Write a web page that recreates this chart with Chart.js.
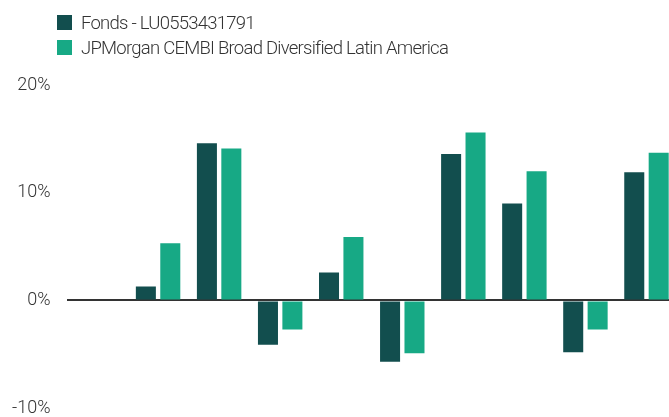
<!DOCTYPE html>
<html>
<head>
<meta charset="utf-8">
<script src="https://cdn.jsdelivr.net/npm/chart.js@4"></script>
<style>
  html, body { margin: 0; padding: 0; background: #fff; overflow: hidden; width: 669px; height: 417px; }
  #wrap { position: absolute; left: 0; top: 0; width: 677px; height: 417px; overflow: hidden; }
  #legend { position: absolute; left: 57px; top: 10px; font-family: Roboto, sans-serif; font-weight: 300; font-size: 18.5px; color: #333; letter-spacing: -0.75px; }
  .item { display: flex; align-items: center; height: 25px; }
  .sw { width: 15px; height: 15px; margin-right: 9px; }
</style>
</head>
<body>
<div id="wrap"><canvas id="c" width="677" height="435"></canvas></div>
<div id="legend"></div>
<script>
const categories = ["", "1", "2", "3", "4", "5", "6", "7", "8", "9"];
const seriesNames = ["Fonds - LU0553431791", "JPMorgan CEMBI Broad Diversified Latin America"];
const fondsValues = [null, 1.3, 14.6, -4.1, 2.6, -5.7, 13.6, 9.0, -4.8, 11.9];
const benchValues = [null, 5.3, 14.1, -2.7, 5.9, -4.9, 15.6, 12.0, -2.7, 13.7];
const yTicks = [-10, 0, 10, 20];
const colors = ["#124e4e", "#17a985"];

const legend = document.getElementById('legend');
seriesNames.forEach((n, i) => {
  const d = document.createElement('div'); d.className = 'item';
  d.innerHTML = '<span class="sw" style="background:' + colors[i] + '"></span><span>' + n + '</span>';
  legend.appendChild(d);
});

new Chart(document.getElementById('c'), {
  type: 'bar',
  data: {
    labels: categories,
    datasets: [
      { label: seriesNames[0], data: fondsValues, backgroundColor: colors[0] },
      { label: seriesNames[1], data: benchValues, backgroundColor: colors[1] }
    ]
  },
  options: {
    responsive: false,
    animation: false,
    events: [],
    layout: { padding: { top: 85, bottom: 10, left: 0, right: 0 } },
    plugins: { legend: { display: false }, tooltip: { enabled: false } },
    datasets: { bar: { categoryPercentage: 0.8, barPercentage: 0.82 } },
    scales: {
      x: { display: false },
      y: {
        min: -10, max: 20,
        afterBuildTicks: (s) => { s.ticks = yTicks.map(v => ({ value: v })); },
        afterFit: (s) => { s.width = 66.5; },
        border: { display: false },
        grid: {
          drawTicks: false,
          color: (ctx) => ctx.tick && ctx.tick.value === 0 ? '#333333' : 'rgba(0,0,0,0)',
          lineWidth: (ctx) => ctx.tick && ctx.tick.value === 0 ? 2 : 0
        },
        ticks: {
          padding: 16,
          color: '#333',
          font: { family: 'Roboto, sans-serif', size: 18, weight: '300' },
          callback: (v) => v + '%'
        }
      }
    }
  }
});
</script>
</body>
</html>
